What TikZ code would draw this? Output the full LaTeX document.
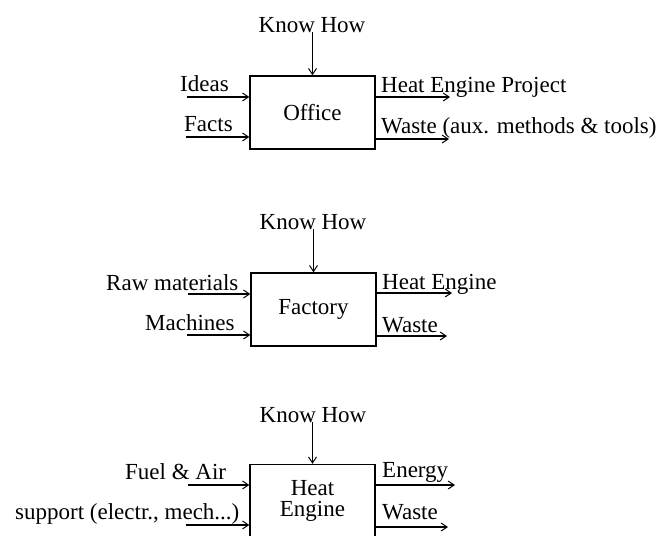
\documentclass[tikz,border=0pt]{standalone}
\usepackage{fontspec}
\setmainfont{Liberation Serif}
\usetikzlibrary{arrows.meta}
\begin{document}
\begin{tikzpicture}[x=1pt,y=-1pt,
  every node/.style={font=\fontsize{23}{21}\selectfont},
  proc/.style={draw,line width=1.3pt,minimum width=125pt,minimum height=73pt,inner sep=0pt,align=center},
  lbl/.style={inner sep=0pt,anchor=base west},
  lblc/.style={inner sep=0pt,anchor=base},
  arr/.style={line width=1.3pt,-{Straight Barb[length=6pt,width=8pt,line width=1pt]}}]
\useasboundingbox (0,0) rectangle (665,536);
% Office
\node[proc] (office) at (312.5,112.5) {Office};
\node[lblc] (kh1) at (312,32) {Know How};
\draw[arr] (kh1.base -| office.north) -- (office.north);
\node[lbl] (ideas) at (180,91) {Ideas};
\node[lbl] (facts) at (184,131) {Facts};
\coordinate (i1) at (187,97);
\coordinate (i2) at (186,137);
\draw[arr] (i1) -- (i1 -| office.west);
\draw[arr] (i2) -- (i2 -| office.west);
\node[lbl] (hep) at (381,92) {Heat Engine Project};
\node[lbl] (w1) at (381,133) {Waste (aux. methods \& tools)};
\coordinate (o1) at (450,97);
\coordinate (o2) at (449,139);
\draw[arr] (o1 -| office.east) -- (o1);
\draw[arr] (o2 -| office.east) -- (o2);
% Factory
\node[proc] (factory) at (313.5,309.5) {Factory};
\node[lblc] (kh2) at (313,229) {Know How};
\draw[arr] (kh2.base -| factory.north) -- (factory.north);
\node[lbl] (raw) at (106,290) {Raw materials};
\node[lbl] (mach) at (145,330) {Machines};
\coordinate (f1) at (188,294);
\coordinate (f2) at (187,335);
\draw[arr] (f1) -- (f1 -| factory.west);
\draw[arr] (f2) -- (f2 -| factory.west);
\node[lbl] (he) at (382,289) {Heat Engine};
\node[lbl] (w2) at (382,332) {Waste};
\coordinate (fo1) at (452,293);
\coordinate (fo2) at (447,336);
\draw[arr] (fo1 -| factory.east) -- (fo1);
\draw[arr] (fo2 -| factory.east) -- (fo2);
% Heat Engine
\node[proc] (engine) at (312.5,501) {Heat\\Engine};
\node[lblc] (kh3) at (313,422) {Know How};
\draw[arr] (kh3.base -| engine.north) -- (engine.north);
\node[lbl] (fuel) at (125,479) {Fuel \& Air};
\node[lbl] (sup) at (15,519) {support (electr., mech...)};
\coordinate (e1) at (188,485);
\coordinate (e2) at (186,525);
\draw[arr] (e1) -- (e1 -| engine.west);
\draw[arr] (e2) -- (e2 -| engine.west);
\node[lbl] (en) at (382,477) {Energy};
\node[lbl] (w3) at (382,519) {Waste};
\coordinate (eo1) at (455,485);
\coordinate (eo2) at (448,527);
\draw[arr] (eo1 -| engine.east) -- (eo1);
\draw[arr] (eo2 -| engine.east) -- (eo2);
\end{tikzpicture}
\end{document}
